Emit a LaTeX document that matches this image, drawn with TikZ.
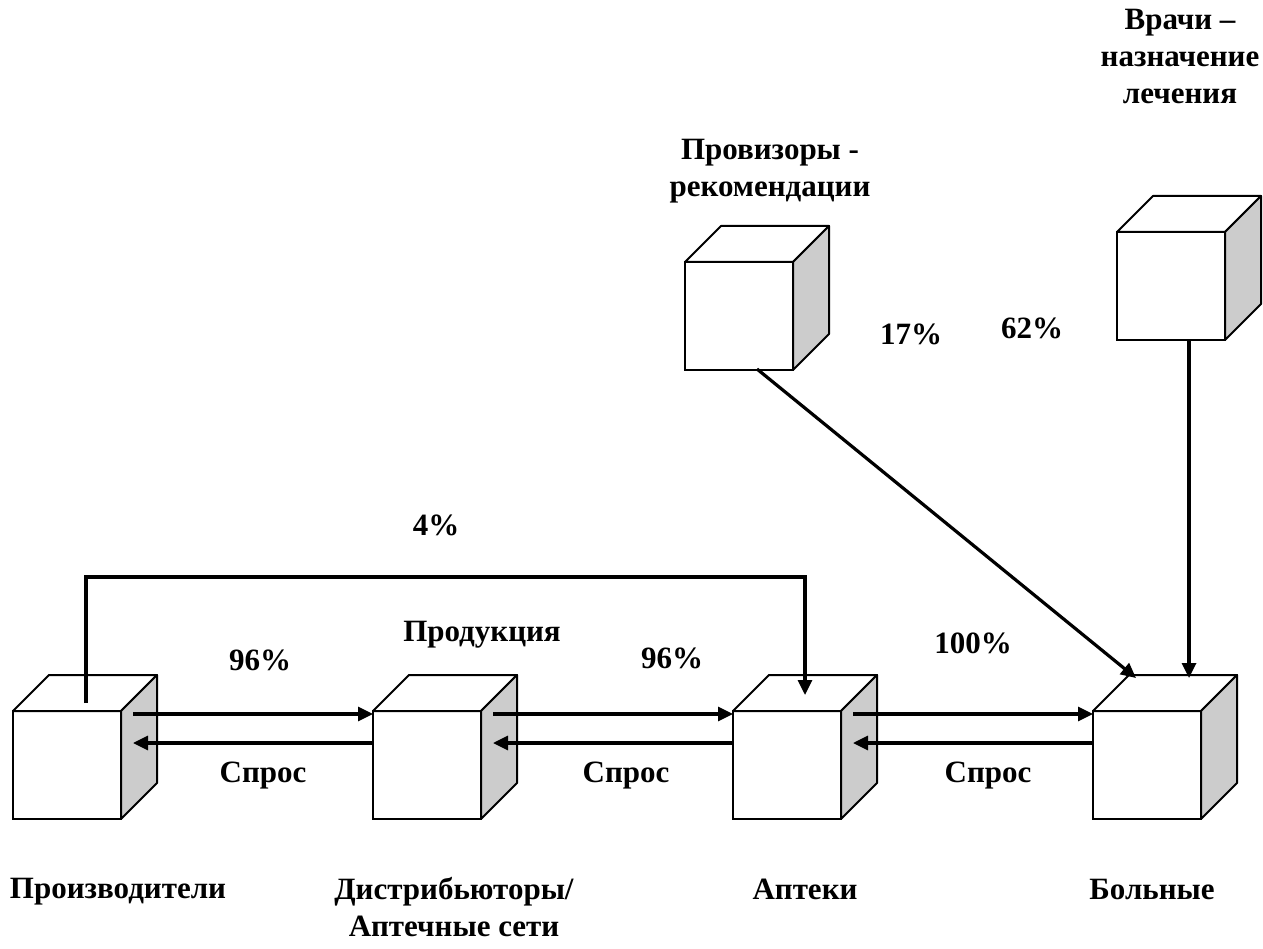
\documentclass[tikz,border=0pt]{standalone}
\usepackage{fontspec}
\setmainfont{Liberation Serif}
\usetikzlibrary{arrows.meta,calc}

% front face of a box; the top and right faces are added by \boxfaces
\tikzset{
  boxfront/.style={draw, fill=white, line width=2pt, minimum width=108pt,
    minimum height=108pt, inner sep=0pt, outer sep=0pt},
  boxface/.style={draw, line width=2pt, line join=round},
  flow/.style={line width=3.2pt, -{Triangle[length=15pt,width=14pt]}},
  lbl/.style={font=\fontsize{31}{37}\selectfont\bfseries, align=center, inner sep=0pt}
}
\newcommand{\boxfaces}[1]{%
  \filldraw[boxface, fill=white] (#1.north west) -- ($(#1.north west)+(36,-36)$)
     -- ($(#1.north east)+(36,-36)$) -- (#1.north east) -- cycle;
  \filldraw[boxface, fill=black!20] (#1.north east) -- ($(#1.north east)+(36,-36)$)
     -- ($(#1.south east)+(36,-36)$) -- (#1.south east) -- cycle;
}

\begin{document}
\begin{tikzpicture}[x=1pt, y=-1pt]
\useasboundingbox (0,0) rectangle (1263,949);

% boxes
\node[boxfront] (prod) at (67,765) {};
\node[boxfront] (dist) at (427,765) {};
\node[boxfront] (apt)  at (787,765) {};
\node[boxfront] (pat)  at (1147,765) {};
\node[boxfront] (prov) at (739,316) {};
\node[boxfront] (doc)  at (1171,286) {};
\foreach \b in {prod,dist,apt,pat,prov,doc} {\boxfaces{\b}}

% supply (upper) and demand (lower) arrows between neighbouring boxes
\foreach \a/\b in {prod/dist, dist/apt, apt/pat} {
  \draw[flow] ($(\a.north east)+(12,3)$) -- ($(\b.north west)+(0,3)$);
  \draw[flow] ($(\b.north west)+(0,32)$) -- ($(\a.north east)+(12,32)$);
}

% direct supply from producers to pharmacies
\coordinate (p1) at ($(prod.north west)+(73,-8)$);
\coordinate (p2) at ($(apt.north west)+(72,-16)$);
\draw[flow] (p1) -- (p1 |- 0,577) -- (p2 |- 0,577) -- (p2);

% influence on patients
\coordinate (t1) at ($(pat.north west)+(43,-33)$);
\coordinate (t2) at ($(pat.north west)+(96,-33)$);
\draw[flow] ($(prov.south west)+(72,-1)$) -- (t1);
\draw[flow] (doc.south -| t2) -- (t2);

% labels
\node[lbl] at (1180,57) {Врачи –\\назначение\\лечения};
\node[lbl] at (770,171) {Провизоры -\\рекомендации};
\node[lbl] at (911,334) {17\%};
\node[lbl] at (1032,328) {62\%};
\node[lbl] at (436,525) {4\%};
\node[lbl] at (260,660) {96\%};
\node[lbl] at (482,635) {Продукция};
\node[lbl] at (672,658) {96\%};
\node[lbl] at (973,643) {100\%};
\node[lbl] at (263,776) {Спрос};
\node[lbl] at (626,776) {Спрос};
\node[lbl] at (988,776) {Спрос};
\node[lbl] at (118,892) {Производители};
\node[lbl] at (454,907) {Дистрибьюторы/\\Аптечные сети};
\node[lbl] at (805,889) {Аптеки};
\node[lbl] at (1152,889) {Больные};
\end{tikzpicture}
\end{document}
